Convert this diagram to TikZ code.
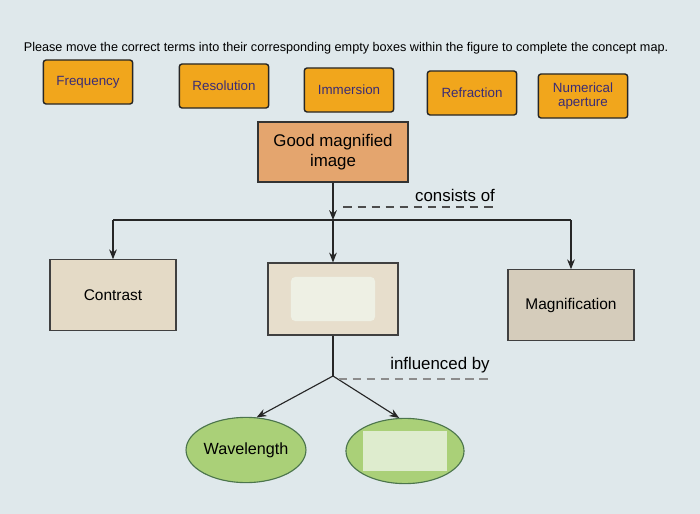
\documentclass[tikz,border=0pt]{standalone}
\usepackage{fontspec}
\setmainfont{Liberation Sans}
\usetikzlibrary{shapes.geometric, arrows.meta, positioning}
\definecolor{screen}{RGB}{223,232,235}
\definecolor{termfill}{RGB}{241,166,28}
\definecolor{termtext}{RGB}{58,44,118}
\definecolor{goalfill}{RGB}{228,165,110}
\definecolor{partfill}{RGB}{228,218,198}
\definecolor{slotfill}{RGB}{238,240,228}
\definecolor{leaffill}{RGB}{170,208,120}
\definecolor{leafslot}{RGB}{222,236,206}

\begin{document}
\begin{tikzpicture}[x=0.025cm, y=-0.025cm,
  term/.style={rectangle, rounded corners=2pt, draw=black!85, fill=termfill, line width=1pt,
               minimum width=2.175cm, minimum height=1.1cm, text width=2cm,
               align=center, text=termtext, font=\fontsize{9.5}{10}\selectfont},
  part/.style={rectangle, draw=black!75, fill=#1, line width=0.8pt,
               minimum width=3.15cm, minimum height=1.76cm,
               font=\fontsize{11}{12}\selectfont},
  leaf/.style={ellipse, draw=black!60!green!40!gray, fill=leaffill, line width=0.8pt,
               minimum width=2.95cm, minimum height=1.63cm, inner sep=0pt,
               font=\fontsize{11.5}{12}\selectfont},
  arr/.style={-{Stealth[length=7pt,width=5.5pt]}, line width=0.8pt, black!85},
  line/.style={line width=0.8pt, black!85},
  hint/.style={dash pattern=on 6pt off 4pt, line width=1.1pt, #1},
  lbl/.style={font=\fontsize{12}{13}\selectfont, inner sep=1pt}
]
\fill[screen] (0,0) rectangle (700,514);
\useasboundingbox (0,0) rectangle (700,514);

% instruction
\node[font=\fontsize{9}{10}\selectfont] (prompt) at (346,48)
  {Please move the correct terms into their corresponding empty boxes within the figure to complete the concept map.};

% terms to drag
\node[term] (frequency)  at (88,82)  {Frequency};
\node[term] (resolution) at (224,86) {Resolution};
\node[term] (immersion)  at (349,90) {Immersion};
\node[term] (refraction) at (472,93) {Refraction};
\node[term] (numap)      at (583,96) {Numerical\\aperture};

% concept map
\node[rectangle, draw=black!80, fill=goalfill, line width=0.8pt,
      minimum width=3.75cm, minimum height=1.5cm, align=center,
      font=\fontsize{12}{14}\selectfont] (goal) at (333,152) {Good magnified\\image};

\node[part=partfill]      (contrast) at (113,295) {Contrast};
\node[part=partfill!90!white, minimum width=3.25cm, minimum height=1.8cm] (blank) at (333,299) {};
\node[rectangle, rounded corners=3pt, fill=slotfill, minimum width=2.1cm, minimum height=1.1cm] (blankslot) at (blank) {};
\node[part=partfill!85!gray] (magnif) at (571,305) {Magnification};

\coordinate (split)  at (333,220);
\coordinate (splitL) at (113,220);
\coordinate (splitR) at (571,220);

\draw[arr]  (goal.south) -- (split);
\draw[line] (splitL) -- (splitR);
\draw[arr]  (splitL) -- (contrast.north);
\draw[arr]  (split) -- (blank.north);
\draw[arr]  (splitR) -- (magnif.north);

\node[lbl] (consists) at (455,195) {consists of};
\draw[hint=black!70] ([yshift=-3pt]consists.south west) ++(-70,0) -- ([yshift=-3pt]consists.south east);

\node[leaf] (wave)  at (246,450) {Wavelength};
\node[leaf] (blank2) at (405,451) {};
\node[rectangle, fill=leafslot, minimum width=2.12cm, minimum height=1.0cm] (blank2slot) at (blank2) {};

\coordinate (fork) at (333,376);
\draw[line] (blank.south) -- (fork);
\draw[arr]  (fork) -- (wave.72);
\draw[arr]  (fork) -- (blank2.100);

\node[lbl] (influenced) at (440,365) {influenced by};
\draw[hint=black!45] ([yshift=-3pt]influenced.south west) ++(-50,0) -- ([yshift=-3pt]influenced.south east);
\end{tikzpicture}
\end{document}
